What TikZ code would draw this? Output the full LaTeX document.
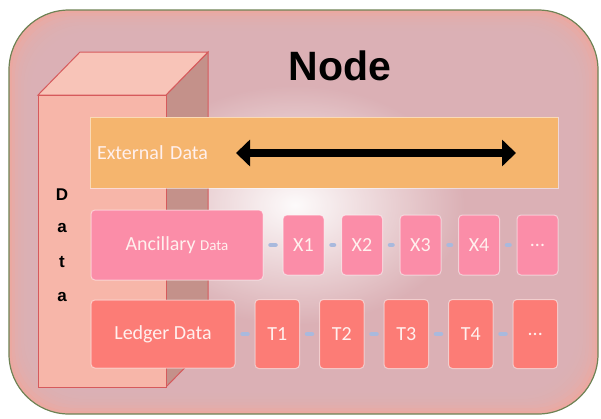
\documentclass[tikz,border=0pt]{standalone}
\usepackage{fontspec}
\setmainfont{Carlito}
\setsansfont{Liberation Sans}
\usetikzlibrary{positioning,arrows.meta,fadings}

\definecolor{bgedge}{HTML}{EBA8A1}
\definecolor{bgmid}{HTML}{DBB3B8}
\definecolor{outerline}{HTML}{6F8355}
\definecolor{cubefront}{HTML}{F7B6A9}
\definecolor{cubetop}{HTML}{F8C4B8}
\definecolor{cubeside}{HTML}{C4918A}
\definecolor{cubeedge}{HTML}{D65A5C}
\definecolor{extfill}{HTML}{F5B56E}
\definecolor{ancfill}{HTML}{FB8DA8}
\definecolor{ledfill}{HTML}{FC7C76}
\definecolor{boxtext}{HTML}{FFF0EE}
\definecolor{linkblue}{HTML}{A9B9DD}

\tikzfading[name=glowfade, inner color=transparent!0, outer color=transparent!100]

\begin{document}
\begin{tikzpicture}[x=1pt, y=-1pt,
	box/.style={rectangle, draw=white, draw opacity=0.5, line width=1pt, rounded corners=4, text=boxtext, font=\fontsize{20}{24}\selectfont, inner sep=0pt, outer sep=0pt},
	extbox/.style={box, fill=extfill, rounded corners=0, text width=454pt, inner xsep=7pt, align=left, minimum height=71pt},
	ancbox/.style={box, fill=ancfill, minimum width=41pt, minimum height=60pt},
	ledbox/.style={box, fill=ledfill, minimum width=44.5pt, minimum height=69pt},
	links/.style={draw=linkblue, line width=4.5pt, line cap=round, shorten <=7.5pt, shorten >=7.5pt},
	bigarrow/.style={{Triangle[width=26pt,length=14pt]}-{Triangle[width=26pt,length=14pt]}, line width=8pt},
	dataletter/.style={font=\sffamily\bfseries\fontsize{17}{20}\selectfont}]

	\path[use as bounding box] (0,0) rectangle (601,418);

	% rounded frame with soft shading
	\fill[bgedge, rounded corners=60] (9,10) rectangle (598,414);
	\begin{scope}
		\clip[rounded corners=60] (9,10) rectangle (598,414);
		\foreach \k in {1,...,8}
			\fill[bgmid, opacity=0.3, rounded corners=60] (9+3*\k,10+3*\k) rectangle (598-3*\k,414-3*\k);
		\fill[white, path fading=glowfade, fill opacity=0.95] (295,205) ellipse [x radius=170, y radius=120];
	\end{scope}
	\draw[outerline, line width=1.2pt, rounded corners=60] (9,10) rectangle (598,414);

	\node[font=\sffamily\bfseries\fontsize{41}{48}\selectfont] (title) at (340,66) {Node};

	% data cube
	\filldraw[fill=cubeside, draw=cubeedge, line width=1pt] (166,95) -- (208,52) -- (208,344) -- (166,387) -- cycle;
	\filldraw[fill=cubetop, draw=cubeedge, line width=1pt] (38,95) -- (80,52) -- (208,52) -- (166,95) -- cycle;
	\filldraw[fill=cubefront, draw=cubeedge, line width=1pt] (38,95) rectangle (166,387);

	\foreach \ch/\yy [count=\i] in {D/195, a/228, t/262, a/297}
		\node[dataletter] (letter\i) at (62,\yy) {\ch};

	% external data
	\node[extbox] (external) at (324,152.5) {External Data};
	\coordinate (arrowleft) at (236,153);
	\coordinate (arrowright) at (516,153);
	\draw[bigarrow] (arrowleft) -- (arrowright);

	% ancillary row
	\node[ancbox, minimum width=172pt, minimum height=70pt] at (177,245) (ancillary) {Ancillary {\fontsize{15}{18}\selectfont Data}};
	\node[ancbox, right = 20pt of ancillary] (x1) {X1};
	\node[ancbox, right = 17.5pt of x1] (x2) {X2};
	\node[ancbox, right = 17.5pt of x2] (x3) {X3};
	\node[ancbox, right = 17.5pt of x3] (x4) {X4};
	\node[ancbox, right = 17.5pt of x4] (xmore) {...};

	% ledger row
	\node[ledbox, minimum width=144pt, minimum height=68pt] at (163,334) (ledger) {Ledger Data};
	\node[ledbox, right = 20pt of ledger] (t1) {T1};
	\node[ledbox, right = 20pt of t1] (t2) {T2};
	\node[ledbox, right = 20pt of t2] (t3) {T3};
	\node[ledbox, right = 20pt of t3] (t4) {T4};
	\node[ledbox, right = 20pt of t4] (tmore) {...};

	\draw[links] (ancillary) -- (x1);
	\draw[links] (x1) -- (x2);
	\draw[links] (x2) -- (x3);
	\draw[links] (x3) -- (x4);
	\draw[links] (x4) -- (xmore);

	\draw[links] (ledger) -- (t1);
	\draw[links] (t1) -- (t2);
	\draw[links] (t2) -- (t3);
	\draw[links] (t3) -- (t4);
	\draw[links] (t4) -- (tmore);
\end{tikzpicture}
\end{document}
